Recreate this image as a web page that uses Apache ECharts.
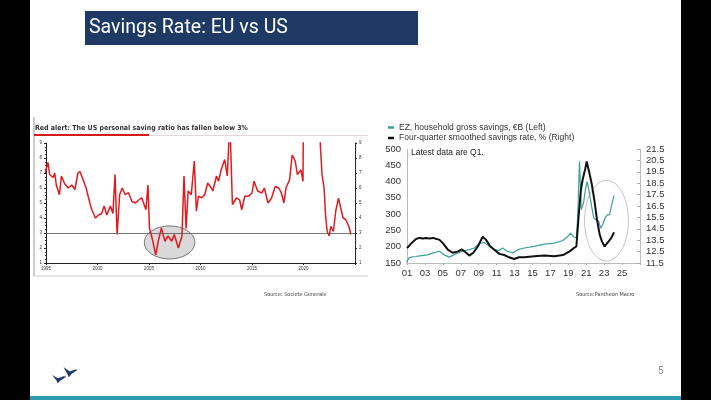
<!DOCTYPE html>
<html><head><meta charset="utf-8">
<script src="https://cdn.jsdelivr.net/npm/echarts@6/dist/echarts.min.js"></script>
<style>html,body{margin:0;padding:0;background:#fff}#c{width:711px;height:400px}</style>
</head><body><div id="c"></div>
<script>
// ---- Data ----
// US personal saving ratio, % (Societe Generale chart)  [year, %]
const usSavingRatio = [
 [1994.9,7.0],[1995.2,7.7],[1995.35,6.9],[1995.7,6.7],[1995.85,7.0],[1996.0,6.2],[1996.3,5.55],[1996.5,6.8],
 [1996.8,6.3],[1997.15,6.0],[1997.5,6.2],[1997.8,5.9],[1998.1,7.0],[1998.3,7.1],[1998.6,6.55],[1998.9,6.0],
 [1999.0,5.7],[1999.3,4.9],[1999.45,4.55],[1999.8,4.0],[2000.1,4.2],[2000.4,4.3],[2000.65,4.8],[2000.9,4.2],
 [2001.25,4.8],[2001.5,4.3],[2001.7,6.9],[2001.9,2.9],[2002.15,5.55],[2002.4,6.0],[2002.7,5.55],[2003.0,5.7],
 [2003.35,5.1],[2003.7,5.0],[2004.0,5.2],[2004.3,5.35],[2004.7,4.55],[2004.9,6.2],[2005.05,3.3],[2005.3,2.67],
 [2005.65,1.55],[2005.9,2.45],[2006.2,3.33],[2006.55,2.45],[2006.85,2.8],[2007.2,2.45],[2007.45,2.9],[2007.85,2.0],
 [2008.2,2.8],[2008.4,6.8],[2008.6,3.3],[2008.8,5.8],[2009.1,5.55],[2009.4,7.8],[2009.6,4.45],[2009.8,5.45],
 [2010.1,5.35],[2010.4,5.55],[2010.7,6.33],[2011.05,6.0],[2011.2,5.8],[2011.55,6.8],[2011.75,6.45],[2012.0,7.2],
 [2012.35,7.9],[2012.6,6.8],[2012.85,10.5],[2013.1,4.9],[2013.5,5.35],[2013.8,5.2],[2014.0,4.55],[2014.3,5.45],
 [2014.65,5.45],[2015.0,5.67],[2015.2,6.45],[2015.55,5.8],[2015.95,5.67],[2016.2,6.0],[2016.55,5.0],[2016.9,5.33],
 [2017.25,6.1],[2017.6,6.0],[2017.85,5.67],[2018.1,5.0],[2018.3,6.0],[2018.65,6.55],[2018.9,8.2],[2019.2,7.8],
 [2019.4,6.9],[2019.75,7.2],[2019.95,6.45],[2020.2,33.0],[2020.5,19.0],[2020.9,14.0],[2021.2,21.0],[2021.45,12.0],
 [2021.65,8.67],[2021.8,6.9],[2022.0,6.0],[2022.15,4.1],[2022.3,3.1],[2022.5,2.8],[2022.65,3.45],[2022.9,3.1],
 [2023.15,4.55],[2023.4,5.33],[2023.65,4.55],[2023.85,4.0],[2024.1,3.9],[2024.4,3.45],[2024.6,2.9]
];
const usThreshold = 3;

// EZ household gross savings, EUR bn (left axis)  [year, value]
const ezGrossSavings = [
 [2000.95,152],[2001.2,165],[2001.45,168],[2002.0,170],[2002.4,172],[2003.3,175],[2003.9,181],[2004.25,183],
 [2004.6,186],[2005.15,175],[2005.7,168],[2006.45,178],[2007.2,186],[2007.95,191],[2008.5,196],[2009.05,209],
 [2009.6,213],[2010.2,201],[2010.75,191],[2011.3,189],[2011.65,196],[2012.2,186],[2012.8,181],[2013.35,191],
 [2014.1,196],[2015.2,201],[2016.35,208],[2017.45,211],[2018.4,219],[2018.95,232],[2019.25,242],[2019.6,230],
 [2019.9,227],[2020.05,293],[2020.25,462],[2020.45,314],[2020.7,334],[2020.9,375],[2021.1,400],[2021.35,365],
 [2021.6,324],[2021.85,288],[2022.1,283],[2022.4,278],[2022.6,257],[2022.85,268],[2023.1,288],[2023.35,298],
 [2023.6,298],[2023.8,324],[2024.1,357]
];
// Four-quarter smoothed savings rate, % (right axis)  [year, %]
const ezSavingsRate = [
 [2001.0,12.8],[2001.45,13.2],[2002.0,13.6],[2002.4,13.7],[2002.8,13.65],[2003.1,13.7],[2003.5,13.65],[2003.9,13.7],
 [2004.3,13.6],[2004.6,13.55],[2005.05,13.2],[2005.55,12.67],[2006.1,12.4],[2006.65,12.5],[2007.1,12.7],[2007.6,12.4],
 [2007.95,12.15],[2008.4,12.4],[2008.9,12.95],[2009.45,13.8],[2009.8,13.55],[2010.25,13.0],[2010.75,12.67],[2011.3,12.3],
 [2011.85,12.2],[2012.4,12.0],[2012.95,11.85],[2013.5,12.0],[2014.1,12.0],[2015.2,12.1],[2016.35,12.15],[2017.45,12.1],
 [2018.4,12.2],[2019.1,12.5],[2019.6,12.8],[2019.9,12.95],[2020.15,15.6],[2020.4,17.9],[2020.6,18.8],[2020.9,19.8],
 [2021.05,20.4],[2021.35,19.4],[2021.6,18.5],[2021.9,17.05],[2022.2,15.3],[2022.5,14.0],[2022.75,13.4],[2023.05,12.95],
 [2023.25,13.1],[2023.5,13.4],[2023.8,13.7],[2024.1,14.2]
];
// Highlight ellipses: [centre year, centre value, half-width (years), half-height (value units)]
const usHighlight = [[2007.0, 2.37, 2.45, 1.1]];
const ezHighlight = [[2023.26, 280, 2.45, 124]];

const seriesNames = ['EZ, household gross savings, €B (Left)', 'Four-quarter smoothed savings rate, % (Right)'];
const slideTitle = 'Savings Rate: EU vs US';
const usChartTitle = 'Red alert: The US personal saving ratio has fallen below 3%';

// ---- Chart ----
const chart = echarts.init(document.getElementById('c'), null, {renderer:'canvas'});
const ellipseRender = (fill, stroke, lw) => function(params, api){
  const c = api.coord([api.value(0), api.value(1)]);
  const s = api.size([api.value(2), api.value(3)]);
  return {type:'ellipse', shape:{cx:c[0], cy:c[1], rx:s[0], ry:s[1]}, style:{fill:fill, stroke:stroke, lineWidth:lw}};
};
const two = v => String(Math.round(v) % 100).padStart(2,'0');
const SANS = 'Liberation Sans, Arial, sans-serif';
const COND = 'DejaVu Sans Condensed, Liberation Sans, Arial, sans-serif';
const tinyLbl = {fontSize:4.5, color:'#333', fontFamily:SANS};
const navy = '#1e3a64';

chart.setOption({
  animation:false,
  backgroundColor:'#ffffff',
  textStyle:{fontFamily:SANS},
  grid:[
    {left:46, right:356, top:143, bottom:137, containLabel:false},
    {left:407, right:71, top:149, bottom:137, containLabel:false}
  ],
  legend:{
    data:[{name:seriesNames[0], icon:'rect'},{name:seriesNames[1], icon:'rect'}],
    orient:'vertical', left:383, top:118, itemWidth:6, itemHeight:2.5, itemGap:1.5,
    textStyle:{fontSize:8.5, color:'#333', fontFamily:SANS}
  },
  xAxis:[
    {type:'value', gridIndex:0, min:1995, max:2025, interval:5,
     axisLine:{lineStyle:{color:'#222', width:1}},
     axisTick:{show:true, length:2, lineStyle:{color:'#222'}},
     axisLabel:Object.assign({margin:3, formatter:v => v===2025 ? '' : String(v)}, tinyLbl),
     splitLine:{show:false}},
    {type:'value', gridIndex:1, min:2001, max:2027, interval:2,
     axisLine:{lineStyle:{color:'#aaa', width:0.8}},
     axisTick:{show:true, length:2, lineStyle:{color:'#aaa'}},
     axisLabel:{fontSize:9.5, color:'#333', margin:5, formatter:v => v===2027 ? '' : two(v)},
     splitLine:{show:false}}
  ],
  yAxis:[
    {type:'value', gridIndex:0, min:1, max:9, interval:1, position:'left',
     axisLine:{show:true, lineStyle:{color:'#222', width:1}},
     axisTick:{show:true, length:2, lineStyle:{color:'#222'}},
     minorTick:{show:true, splitNumber:4, length:1.2, lineStyle:{color:'#444'}},
     axisLabel:Object.assign({margin:4}, tinyLbl), splitLine:{show:false}},
    {type:'value', gridIndex:0, min:1, max:9, interval:1, position:'right',
     axisLine:{show:true, lineStyle:{color:'#222', width:1}},
     axisTick:{show:true, length:2, lineStyle:{color:'#222'}},
     minorTick:{show:true, splitNumber:4, length:1.2, lineStyle:{color:'#444'}},
     axisLabel:Object.assign({margin:4}, tinyLbl), splitLine:{show:false}},
    {type:'value', gridIndex:1, min:150, max:500, interval:50, position:'left',
     axisLine:{show:true, lineStyle:{color:'#aaa', width:0.8}},
     axisTick:{show:false},
     axisLabel:{fontSize:9.5, color:'#333', margin:6}, splitLine:{show:false}},
    {type:'value', gridIndex:1, min:11.5, max:21.5, interval:1, position:'right',
     axisLine:{show:true, lineStyle:{color:'#aaa', width:0.8}},
     axisTick:{show:true, inside:true, length:3, lineStyle:{color:'#aaa'}},
     axisLabel:{fontSize:9.5, color:'#333', margin:6, formatter:v => v.toFixed(1)}, splitLine:{show:false}}
  ],
  series:[
    {type:'custom', name:'usHighlight', xAxisIndex:0, yAxisIndex:0, z:1, silent:true,
     renderItem:ellipseRender('#d9d9d9', '#555', 0.8), data:usHighlight},
    {type:'line', name:'US personal saving ratio', xAxisIndex:0, yAxisIndex:0, z:3,
     data:usSavingRatio, showSymbol:false, clip:true,
     lineStyle:{color:'#e01a1f', width:1.5}, itemStyle:{color:'#e01a1f'},
     markLine:{silent:true, symbol:'none', label:{show:false},
       lineStyle:{color:'#555', width:0.8, type:'solid'}, data:[{yAxis:usThreshold}]}},
    {type:'custom', name:'ezHighlight', xAxisIndex:1, yAxisIndex:2, z:1, silent:true,
     renderItem:ellipseRender('rgba(0,0,0,0)', '#bdbdbd', 0.9), data:ezHighlight},
    {type:'line', name:seriesNames[0], xAxisIndex:1, yAxisIndex:2, z:3,
     data:ezGrossSavings, showSymbol:false, clip:true,
     lineStyle:{color:'#3f9f9c', width:1.2}, itemStyle:{color:'#3f9f9c'}},
    {type:'line', name:seriesNames[1], xAxisIndex:1, yAxisIndex:3, z:4,
     data:ezSavingsRate, showSymbol:false, clip:true,
     lineStyle:{color:'#111', width:2}, itemStyle:{color:'#111'}}
  ],
  graphic:[
    {type:'rect', shape:{x:0, y:0, width:30, height:400}, style:{fill:'#000'}, z:100},
    {type:'rect', shape:{x:681, y:0, width:30, height:400}, style:{fill:'#000'}, z:100},
    {type:'rect', shape:{x:85, y:11, width:333, height:34}, style:{fill:navy}},
    {type:'text', x:89, y:28, style:{text:slideTitle, fill:'#fff', fontSize:19.5, fontFamily:'Roboto', verticalAlign:'middle'}},
    // left chart frame & title
    {type:'line', shape:{x1:34, y1:117, x2:34, y2:276}, style:{stroke:'#9a9a9a', lineWidth:1}},
    {type:'line', shape:{x1:34, y1:276, x2:368, y2:276}, style:{stroke:'#cfcfcf', lineWidth:1}},
    {type:'line', shape:{x1:34, y1:135.5, x2:368, y2:135.5}, style:{stroke:'#d8c8c8', lineWidth:0.7}},
    {type:'line', shape:{x1:34, y1:135, x2:149, y2:135}, style:{stroke:'#d7191c', lineWidth:2}},
    {type:'text', x:35, y:128, style:{text:usChartTitle, fill:'#333', fontSize:7, fontWeight:'bold', fontFamily:COND, verticalAlign:'middle'}},
    {type:'text', x:264, y:295, style:{text:'Source: Societe Generale', fill:'#444', fontSize:5.5, fontFamily:COND, verticalAlign:'middle'}},
    {type:'text', x:576, y:295, style:{text:'Source:Pantheon Macro', fill:'#444', fontSize:5.5, fontFamily:COND, verticalAlign:'middle'}},
    {type:'text', x:411, y:153, style:{text:'Latest data are Q1.', fill:'#222', fontSize:8.5, fontFamily:SANS, verticalAlign:'middle'}},
    // logo (two birds)
    {type:'polygon', shape:{points:[[52,375],[58,378.3],[63.5,376.3],[66.3,376.6],[64.3,378],[60.5,380.5],[57.8,383.2],[56.3,380.2]]}, style:{fill:navy}},
    {type:'polygon', shape:{points:[[63.5,367],[69.8,371.6],[75,369.4],[77.6,369.8],[75.6,371.2],[71.4,374],[69,377.2],[67.4,374]]}, style:{fill:navy}},
    {type:'text', x:658, y:371, style:{text:'5', fill:'#8c8c8c', fontSize:10, fontFamily:'Roboto', verticalAlign:'middle'}},
    {type:'rect', shape:{x:30, y:396, width:651, height:4}, style:{fill:'#2e9bb0'}}
  ]
});
</script></body></html>
